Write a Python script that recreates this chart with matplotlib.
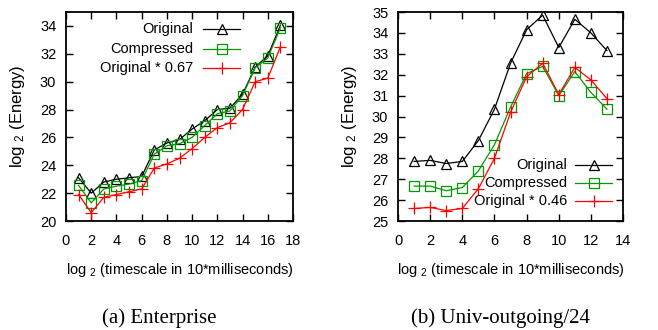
import matplotlib
matplotlib.use("Agg")
import matplotlib.pyplot as plt
from matplotlib import font_manager as fm

# --- data ------------------------------------------------------------------
ent_x = list(range(1, 18))
ent_original = [23.1, 22.0, 22.8, 23.0, 23.1, 23.2, 25.1, 25.6, 25.85, 26.6,
                27.2, 28.0, 28.1, 29.1, 31.05, 31.85, 34.05]
ent_compressed = [22.55, 21.3, 22.3, 22.5, 22.65, 22.9, 24.8, 25.4, 25.55, 26.0,
                  26.85, 27.7, 27.9, 29.0, 31.0, 31.7, 33.85]
ent_scaled = [21.9, 20.6, 21.7, 21.9, 22.1, 22.3, 23.8, 24.1, 24.5, 25.2,
              26.0, 26.7, 27.05, 28.0, 30.0, 30.25, 32.5]

univ_x = list(range(1, 14))
univ_original = [27.85, 27.9, 27.75, 27.85, 28.85, 30.35, 32.55, 34.15, 34.85,
                 33.3, 34.65, 34.0, 33.15]
univ_compressed = [26.67, 26.67, 26.45, 26.6, 27.4, 28.65, 30.45, 32.05, 32.4,
                   31.0, 32.15, 31.15, 30.35]
univ_scaled = [25.6, 25.65, 25.5, 25.6, 26.55, 28.0, 30.2, 31.9, 32.55,
               31.05, 32.35, 31.75, 30.85]

labels_ent = ["Original", "Compressed", "Original * 0.67"]
labels_univ = ["Original", "Compressed", "Original * 0.46"]
captions = ["(a) Enterprise", "(b) Univ-outgoing/24"]

styles = [
    dict(color="black", marker="^", ms=6.5, mfc="none"),
    dict(color="#009a00", marker="s", ms=7, mfc="none"),
    dict(color="red", marker="+", ms=9, mfc="none"),
]

# --- fonts ---------------------------------------------------------------
names = {f.name for f in fm.fontManager.ttflist}
if "Liberation Sans Narrow" in names:
    narrow, nsize = "Liberation Sans Narrow", 12
else:
    narrow, nsize = "Liberation Sans", 10.5

plt.rcParams["font.family"] = narrow
plt.rcParams["mathtext.fontset"] = "custom"
plt.rcParams["mathtext.rm"] = narrow
plt.rcParams["mathtext.it"] = narrow

fig = plt.figure(figsize=(6.58, 3.3), dpi=100)

panels = [
    dict(rect=[0.1003, 0.3303, 0.345, 0.6333], x=ent_x,
         ys=[ent_original, ent_compressed, ent_scaled], labels=labels_ent,
         xlim=(0, 18), xticks=range(0, 19, 2), ylim=(20, 35), yticks=range(20, 35, 2),
         leg_text_x=0.559, leg_line=(0.604, 0.767), leg_rows=(0.919, 0.823, 0.732),
         cap_x=0.242),
    dict(rect=[0.6049, 0.3303, 0.342, 0.6333], x=univ_x,
         ys=[univ_original, univ_compressed, univ_scaled], labels=labels_univ,
         xlim=(0, 14), xticks=range(0, 15, 2), ylim=(25, 35), yticks=range(25, 36, 1),
         leg_text_x=0.751, leg_line=(0.787, 0.951), leg_rows=(0.268, 0.182, 0.096),
         cap_x=0.76),
]

for p, cap in zip(panels, captions):
    ax = fig.add_axes(p["rect"])
    for y, st in zip(p["ys"], styles):
        ax.plot(p["x"], y, lw=0.9, mew=0.9, **st)
    ax.set_xlim(*p["xlim"])
    ax.set_ylim(*p["ylim"])
    ax.set_xticks(list(p["xticks"]))
    ax.set_yticks(list(p["yticks"]))
    ax.tick_params(direction="in", length=5, width=1, top=True, right=True,
                   labelsize=nsize)
    ax.tick_params(axis="x", pad=9)
    ax.tick_params(axis="y", pad=7)
    for s in ax.spines.values():
        s.set_linewidth(1.3)
    ax.set_xlabel("log $_2$ (timescale in 10*milliseconds)", fontsize=nsize, labelpad=10)
    ax.set_ylabel("log $_2$ (Energy)", fontsize=12, family="Liberation Sans", labelpad=9)

    # gnuplot-style key: right-aligned text, sample line with marker in the middle
    x0, x1 = p["leg_line"]
    for lab, st, ry in zip(p["labels"], styles, p["leg_rows"]):
        ax.text(p["leg_text_x"], ry, lab, transform=ax.transAxes, ha="right",
                va="center", fontsize=nsize)
        ax.plot([x0, x1], [ry, ry], transform=ax.transAxes, color=st["color"], lw=0.9)
        ax.plot([(x0 + x1) / 2], [ry], transform=ax.transAxes, lw=0, mew=0.9, **st)

    fig.text(p["cap_x"], 0.036, cap, ha="center", va="center", fontsize=15,
             family="Liberation Serif")

fig.savefig("out.png", dpi=100)
